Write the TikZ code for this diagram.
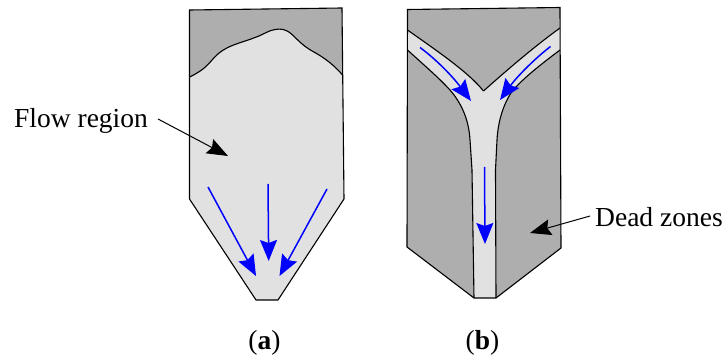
\documentclass[tikz,border=0pt]{standalone}
\usepackage{fontspec}
\setmainfont{Liberation Serif}
\usetikzlibrary{arrows.meta}
\definecolor{dead}{HTML}{AEAEAE}
\definecolor{flow}{HTML}{E1E1E1}
\definecolor{flowblue}{HTML}{0000FF}
\tikzset{
  wall/.style={draw=black,line width=1.1pt,line join=miter},
  curveline/.style={draw=black,line width=1.1pt},
  flowarrow/.style={draw=flowblue,line width=1.5pt,-{Stealth[length=21pt,width=17pt,inset=3pt,color=flowblue]}},
  pointer/.style={draw=black,line width=1pt,-{Stealth[length=21pt,width=16pt,inset=3pt]}},
  label/.style={inner sep=0pt,font=\fontsize{27.5pt}{30pt}\selectfont}
}
\newcommand{\topa}{(342.5,75) .. controls (335,66) and (325,58) .. (313,51.5) .. controls (303,46) and (298,40) .. (292,34.5) .. controls (286,29) and (281,28.5) .. (275,29.5) .. controls (268,30.5) and (263,35) .. (255,37.5) .. controls (245,41.5) and (234,44) .. (226,48.5) .. controls (215,54) and (211,63) .. (203,69) .. controls (199,72) and (194,75) .. (189.5,77)}
\newcommand{\topb}{(560,28) .. controls (535,46) and (507,70) .. (483.5,91)}
\newcommand{\topc}{(483.5,91) .. controls (468,72) and (440,53) .. (407.5,30)}
\newcommand{\lowl}{(407.5,50) .. controls (425,66) and (438,77) .. (450,90) .. controls (463,105) and (469,122) .. (470,140) -- (472,170) -- (474,298)}
\newcommand{\lowr}{(560,50) .. controls (540,65) and (525,77) .. (513,90) .. controls (503,104) and (498,122) .. (497,140) -- (495.5,170) -- (496,298)}
\begin{document}
\begin{tikzpicture}[x=1pt,y=-1pt]
\useasboundingbox (0,0) rectangle (724,358);
% panel a
\fill[flow] (189.5,10) -- (342,8) -- (344,199) -- (278,300) -- (256,300) -- (189.5,199) -- cycle;
\fill[dead] (189.5,10) -- (342,8) -- \topa -- cycle;
\draw[curveline] \topa;
\draw[wall] (189.5,10) -- (342,8) -- (344,199) -- (278,300) -- (256,300) -- (189.5,199) -- cycle;
\coordinate (a1s) at (208,187); \coordinate (a1e) at (256,276);
\coordinate (a2s) at (268,184); \coordinate (a2e) at (268.7,261);
\coordinate (a3s) at (327,189); \coordinate (a3e) at (279.5,276);
\draw[flowarrow] (a1s) -- (a1e);
\draw[flowarrow] (a2s) -- (a2e);
\draw[flowarrow] (a3s) -- (a3e);
% panel b
\fill[flow] (407.5,9.5) -- (560,7.5) -- (561,248) -- (496,298) -- (474,298) -- (407,247) -- cycle;
\fill[dead] (407.5,9.5) -- (560,7.5) -- \topb .. controls (468,72) and (440,53) .. (407.5,30) -- cycle;
\fill[dead] \lowl -- (407,247) -- cycle;
\fill[dead] \lowr -- (561,248) -- cycle;
\draw[curveline] \topb;
\draw[curveline] \topc;
\draw[curveline] \lowl;
\draw[curveline] \lowr;
\draw[wall] (407.5,9.5) -- (560,7.5) -- (561,248) -- (496,298) -- (474,298) -- (407,247) -- cycle;
\coordinate (b1s) at (420,47.5); \coordinate (b1e) at (471,101);
\coordinate (b2s) at (550.5,46.5); \coordinate (b2e) at (500,100);
\coordinate (b3s) at (484.5,167); \coordinate (b3e) at (485,244);
\draw[flowarrow] (b1s) .. controls (437,60) and (453,77) .. (b1e);
\draw[flowarrow] (b2s) .. controls (533,60) and (516,78) .. (b2e);
\draw[flowarrow] (b3s) -- (b3e);
% labels
\node[label,anchor=base west] (flowlabel) at (14,128) {Flow region};
\node[label,anchor=base west] (deadlabel) at (595,227) {Dead zones};
\node[label,anchor=base] (alabel) at (264.5,350) {(\textbf{a})};
\node[label,anchor=base] (blabel) at (482.5,350) {(\textbf{b})};
\coordinate (p1s) at (158,119); \coordinate (p1e) at (228,156);
\coordinate (p2s) at (590,216); \coordinate (p2e) at (530,233);
\draw[pointer] (p1s) -- (p1e);
\draw[pointer] (p2s) -- (p2e);
\end{tikzpicture}
\end{document}
